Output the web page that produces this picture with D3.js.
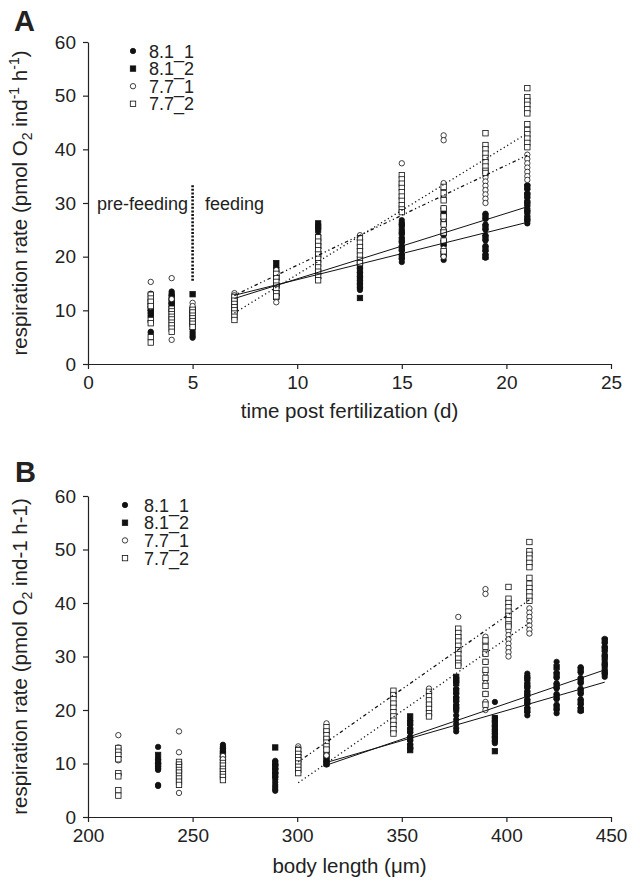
<!DOCTYPE html>
<html>
<head>
<meta charset="utf-8">
<script src="https://cdn.jsdelivr.net/npm/d3@7"></script>
<style>
  body { margin: 0; background: #fff; }
  svg text { font-family: "Liberation Sans", Arial, Helvetica, sans-serif; fill: #222; }
</style>
</head>
<body>
<svg id="fig" width="640" height="888"></svg>
<script>
// ---- data ----
const times = [3, 4, 5, 7, 9, 11, 13, 15, 17, 19, 21];
const bodyLen81 = [233.5, 264.5, 289.5, 314, 354, 376, 394.5, 410, 424, 435.5, 447];
const bodyLen77 = [214.5, 243.5, 264.5, 300.5, 314, 346, 363, 377, 390, 401, 411];

// respiration per individual, one inner array per time point
const resp81_1 = [
  [13.1, 10.7, 10.0, 9.5, 9.0, 8.8, 6.0, 5.8],
  [13.5, 13.2, 12.8, 12.3, 11.8, 11.3, 10.7, 10.2],
  [10.5, 9.8, 9.0, 8.2, 7.5, 7.0, 6.5, 6.0, 5.6, 5.2, 4.9],
  [11.5, 11.0, 10.5, 10.2, 9.8],
  [18.0, 17.2, 16.5, 15.8, 15.0, 14.3, 13.6, 12.8],
  [24.0, 23.0, 22.3, 21.6, 21.0, 20.4, 19.8, 19.0, 18.2, 17.4, 16.6, 16.0],
  [21.5, 18.5, 17.8, 17.0, 16.3, 15.6, 14.9, 14.2, 13.8],
  [26.8, 26.0, 25.2, 24.4, 23.6, 22.8, 22.0, 21.2, 20.4, 19.6, 19.0],
  [29.0, 27.0, 26.0, 25.0, 24.0, 23.0, 22.0, 21.0, 20.0, 19.4],
  [28.0, 27.0, 26.0, 25.0, 24.0, 23.0, 22.0, 21.0, 20.4, 19.8],
  [33.3, 32.5, 31.7, 30.9, 30.1, 29.3, 28.5, 27.7, 26.9, 26.2]
];
const resp81_2 = [
  [11.6, 10.4, 9.6],
  [12.5, 11.6, 11.0],
  [13.0, 10.0, 9.4, 8.6, 7.8],
  [11.8, 10.8, 10.0],
  [18.8, 17.6, 16.2, 14.6, 13.2, 12.5],
  [26.2, 25.6, 25.0, 23.5, 22.0, 20.5],
  [18.5, 17.5, 16.5, 15.5, 14.5, 12.3],
  [26.0, 24.5, 23.0, 21.5, 20.0],
  [28.0, 26.5, 24.5, 22.5, 20.5],
  [27.5, 25.5, 23.5, 21.5, 20.0],
  [33.0, 31.5, 30.0, 28.5, 27.0]
];
const resp77_1 = [
  [15.3, 13.0, 11.2, 10.6, 8.0],
  [16.0, 12.1, 10.0, 8.5, 4.5],
  [11.4, 10.8, 9.0, 7.5],
  [13.2, 12.8, 12.2, 11.6, 11.0, 10.4],
  [17.5, 16.0, 14.5, 13.0, 12.3, 11.5],
  [22.8, 21.0, 19.0, 17.5, 16.0],
  [24.0, 23.2, 22.0, 21.0, 20.0, 19.0],
  [37.4, 33.5, 31.0, 29.5],
  [42.6, 41.7, 33.7, 32.5, 31.0, 29.0, 27.0, 25.0, 23.0, 21.5, 20.0],
  [34.8, 34.0, 33.2, 32.4, 31.6, 30.8, 30.0],
  [39.0, 38.2, 37.4, 36.6, 35.8, 35.0, 34.3]
];
const resp77_2 = [
  [12.9, 12.2, 11.6, 10.8, 8.2, 7.6, 5.0, 4.0],
  [10.3, 9.8, 9.3, 8.8, 8.3, 7.7, 7.2, 6.6, 6.0],
  [10.1, 9.6, 9.0, 8.5, 8.0, 7.5, 6.9],
  [12.5, 11.8, 11.2, 10.6, 10.0, 9.4, 8.8, 8.2],
  [16.8, 16.0, 15.3, 14.6, 13.9, 13.2, 12.6],
  [23.6, 22.8, 22.0, 21.2, 20.4, 19.6, 18.8, 18.0, 17.2, 16.4, 15.6],
  [23.4, 22.6, 21.8, 21.0, 20.2, 19.4, 18.8],
  [35.2, 34.4, 33.6, 32.8, 32.0, 31.2, 30.4, 29.6, 28.8, 28.3],
  [33.0, 31.8, 30.5, 29.0, 27.5, 26.0, 24.5, 23.0, 21.0],
  [43.0, 40.8, 40.0, 39.2, 38.4, 37.6, 36.8, 36.0, 35.6],
  [51.4, 49.7, 49.0, 48.3, 47.5, 46.7, 44.7, 43.6, 42.8, 42.0, 41.2, 40.4]
];

// regression lines, [x, y] end points
const fitTime81_1 = [[7, 12.2], [21, 29.3]];
const fitTime81_2 = [[7, 12.8], [21, 26.4]];
const fitTime77_1 = [[7, 12.8], [21, 38.9]];
const fitTime77_2 = [[7, 9.5], [21, 43.0]];
const fitLen81_1 = [[314, 9.7], [447, 27.5]];
const fitLen81_2 = [[314, 10.2], [447, 25.2]];
const fitLen77_1 = [[300.5, 6.4], [411, 36.3]];
const fitLen77_2 = [[300.5, 10.3], [411, 40.6]];
const feedingStart = [[5, 15.5], [5, 33.3]];

const groupNames = ["8.1_1", "8.1_2", "7.7_1", "7.7_2"];
const yTicks = [0, 10, 20, 30, 40, 50, 60];
const timeTicks = [0, 5, 10, 15, 20, 25];
const lenTicks = [200, 250, 300, 350, 400, 450];

// ---- drawing ----
const svg = d3.select("#fig");
const groups = [
  { name: groupNames[0], vals: resp81_1, len: bodyLen81, shape: "circle", filled: true },
  { name: groupNames[1], vals: resp81_2, len: bodyLen81, shape: "square", filled: true },
  { name: groupNames[2], vals: resp77_1, len: bodyLen77, shape: "circle", filled: false },
  { name: groupNames[3], vals: resp77_2, len: bodyLen77, shape: "square", filled: false }
];

function marker(sel, shape, filled) {
  if (shape === "circle") {
    sel.append("circle").attr("r", 2.7);
  } else {
    sel.append("rect").attr("x", -2.7).attr("y", -2.7).attr("width", 5.4).attr("height", 5.4);
  }
  sel.selectAll("circle,rect")
    .attr("fill", filled ? "#111" : "#fff")
    .attr("stroke", "#111")
    .attr("stroke-width", 0.8);
}

function drawPanel(p) {
  const x = d3.scaleLinear().domain(p.xDomain).range([88, 611]);
  const y = d3.scaleLinear().domain([0, 60]).range([p.bottom, p.top]);
  const g = svg.append("g");

  g.append("g")
    .attr("transform", `translate(0,${p.bottom})`)
    .call(d3.axisBottom(x).tickValues(p.xTicks).tickSize(5).tickPadding(7).tickSizeOuter(0))
    .call(a => a.selectAll("text").attr("font-size", 19).attr("fill", "#222"));
  g.append("g")
    .attr("transform", "translate(88,0)")
    .call(d3.axisLeft(y).tickValues(yTicks).tickSize(5).tickPadding(7).tickSizeOuter(0))
    .call(a => a.selectAll("text").attr("font-size", 19).attr("fill", "#222"));
  g.selectAll(".domain, .tick line").attr("stroke", "#222").attr("stroke-width", 1.2);

  // points
  groups.forEach(gr => {
    const pts = [];
    gr.vals.forEach((arr, i) => arr.forEach(v => pts.push({ x: p.byLength ? gr.len[i] : times[i], v })));
    const layer = g.append("g");
    pts.forEach(d => {
      const m = layer.append("g").attr("transform", `translate(${x(d.x)},${y(d.v)})`);
      marker(m, gr.shape, gr.filled);
    });
  });

  // fits
  const line = d3.line().x(d => x(d[0])).y(d => y(d[1]));
  p.fits.forEach(f => {
    g.append("path").attr("d", line(f.pts)).attr("fill", "none")
      .attr("stroke", "#111").attr("stroke-width", f.dash ? 1.3 : 1)
      .attr("stroke-dasharray", f.dash || null);
  });

  // legend
  groups.forEach((gr, i) => {
    const ly = p.legY + i * p.legStep;
    const m = g.append("g").attr("transform", `translate(${p.legX},${ly})`);
    marker(m, gr.shape, gr.filled);
    g.append("text").attr("x", p.legX + p.legGap).attr("y", ly + 6.5)
      .attr("font-size", 18).text(gr.name);
  });

  // panel letter
  g.append("text").attr("x", p.letterX).attr("y", p.letterY)
    .attr("font-size", 29).attr("font-weight", "bold").attr("fill", "#111").text(p.letter);

  // x title
  const xt = g.append("text").attr("x", 349.5).attr("y", p.xTitleY)
    .attr("text-anchor", "middle").attr("font-size", 20.5);
  p.xTitle(xt);

  // y title
  const yt = g.append("text")
    .attr("transform", `translate(27,${(p.top + p.bottom) / 2}) rotate(-90)`)
    .attr("text-anchor", "middle").attr("font-size", 20.5);
  yt.append("tspan").text("respiration rate (pmol O");
  yt.append("tspan").attr("dy", 5).attr("font-size", 14).text("2");
  if (p.superscripts) {
    yt.append("tspan").attr("dy", -5).text(" ind");
    yt.append("tspan").attr("dy", -8).attr("font-size", 14).text("-1");
    yt.append("tspan").attr("dy", 8).text(" h");
    yt.append("tspan").attr("dy", -8).attr("font-size", 14).text("-1");
    yt.append("tspan").attr("dy", 8).text(")");
  } else {
    yt.append("tspan").attr("dy", -5).text(" ind-1 h-1)");
  }
  return { g, x, y };
}

const A = drawPanel({
  letter: "A", letterX: 14, letterY: 31,
  xDomain: [0, 25], xTicks: timeTicks, top: 42, bottom: 364, byLength: false,
  legX: 133, legY: 51, legStep: 17.6, legGap: 16,
  xTitleY: 418, superscripts: true,
  xTitle: t => t.text("time post fertilization (d)"),
  fits: [
    { pts: fitTime81_1 }, { pts: fitTime81_2 },
    { pts: fitTime77_1, dash: "1.2,2.8,1.2,2.8,3.5,2.8" }, { pts: fitTime77_2, dash: "1.2,2.8" }
  ]
});

// feeding start marker in A
A.g.append("path")
  .attr("d", d3.line().x(d => A.x(d[0])).y(d => A.y(d[1]))(feedingStart))
  .attr("stroke", "#111").attr("stroke-width", 2.6).attr("stroke-dasharray", "2,1.6");
A.g.append("text").attr("x", 188).attr("y", 210).attr("text-anchor", "end")
  .attr("font-size", 18).text("pre-feeding");
A.g.append("text").attr("x", 205).attr("y", 210)
  .attr("font-size", 18).text("feeding");

drawPanel({
  letter: "B", letterX: 15, letterY: 482,
  xDomain: [200, 450], xTicks: lenTicks, top: 496, bottom: 817, byLength: true,
  legX: 125, legY: 505, legStep: 17.7, legGap: 19,
  xTitleY: 873, superscripts: false,
  xTitle: t => { t.append("tspan").text("body length ("); t.append("tspan").text("\u03bcm)"); },
  fits: [
    { pts: fitLen81_1 }, { pts: fitLen81_2 },
    { pts: fitLen77_1, dash: "1.2,2.8" }, { pts: fitLen77_2, dash: "1.2,2.8,1.2,2.8,3.5,2.8" }
  ]
});
</script>
</body>
</html>
